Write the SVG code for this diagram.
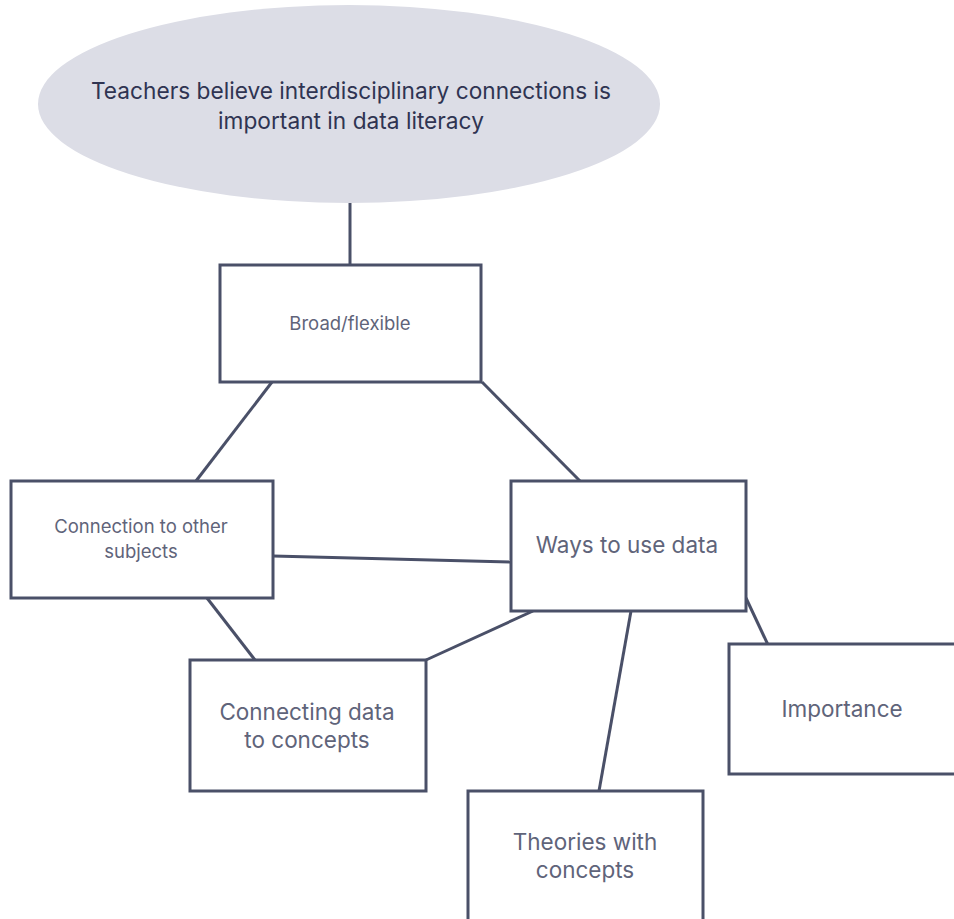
<svg xmlns="http://www.w3.org/2000/svg" width="954" height="919" viewBox="0 0 954 919">
  <style>
    .box { fill: #ffffff; stroke: #4a5068; stroke-width: 3; }
    .edge { stroke: #4a5068; stroke-width: 3; fill: none; }
    .lbl { font-family: Inter, "Noto Sans", "Liberation Sans", sans-serif; fill: #5f647a; text-anchor: middle; font-size: 22.5px; }
    .lbl.small { font-size: 18.5px; }
    .title { font-family: Inter, "Noto Sans", "Liberation Sans", sans-serif; fill: #2f3452; text-anchor: middle; font-size: 22.7px; }
  </style>
  <rect width="954" height="919" fill="#ffffff"/>

  <!-- connectors -->
  <g id="connectors">
    <line class="edge" x1="350" y1="203" x2="350" y2="265"/>
    <line class="edge" x1="272" y1="382" x2="196" y2="481"/>
    <line class="edge" x1="482" y1="382" x2="580" y2="481"/>
    <line class="edge" x1="273" y1="556" x2="510" y2="562"/>
    <line class="edge" x1="207" y1="598" x2="255" y2="660"/>
    <line class="edge" x1="533" y1="611" x2="426" y2="660"/>
    <line class="edge" x1="631" y1="611" x2="599" y2="791"/>
    <line class="edge" x1="746" y1="598" x2="769" y2="647"/>
  </g>

  <!-- central idea -->
  <g id="node-main">
    <ellipse cx="349" cy="104" rx="311" ry="99" fill="#dcdde6"/>
    <text class="title" x="351" y="99">Teachers believe interdisciplinary connections is</text>
    <text class="title" x="351" y="129">important in data literacy</text>
  </g>

  <g id="node-broad">
    <rect class="box" x="220" y="265" width="261" height="117"/>
    <text class="lbl small" x="350" y="330">Broad/flexible</text>
  </g>

  <g id="node-connection">
    <rect class="box" x="11" y="481" width="262" height="117"/>
    <text class="lbl small" x="141" y="533">Connection to other</text>
    <text class="lbl small" x="141" y="558">subjects</text>
  </g>

  <g id="node-ways">
    <rect class="box" x="511" y="481" width="235" height="130"/>
    <text class="lbl" x="627" y="553">Ways to use data</text>
  </g>

  <g id="node-connecting">
    <rect class="box" x="190" y="660" width="236" height="131"/>
    <text class="lbl" x="307" y="720">Connecting data</text>
    <text class="lbl" x="307" y="748">to concepts</text>
  </g>

  <g id="node-theories">
    <rect class="box" x="468" y="791" width="235" height="140"/>
    <text class="lbl" x="585" y="850">Theories with</text>
    <text class="lbl" x="585" y="878">concepts</text>
  </g>

  <g id="node-importance">
    <rect class="box" x="729" y="644" width="240" height="130"/>
    <text class="lbl" x="842" y="717">Importance</text>
  </g>
</svg>
